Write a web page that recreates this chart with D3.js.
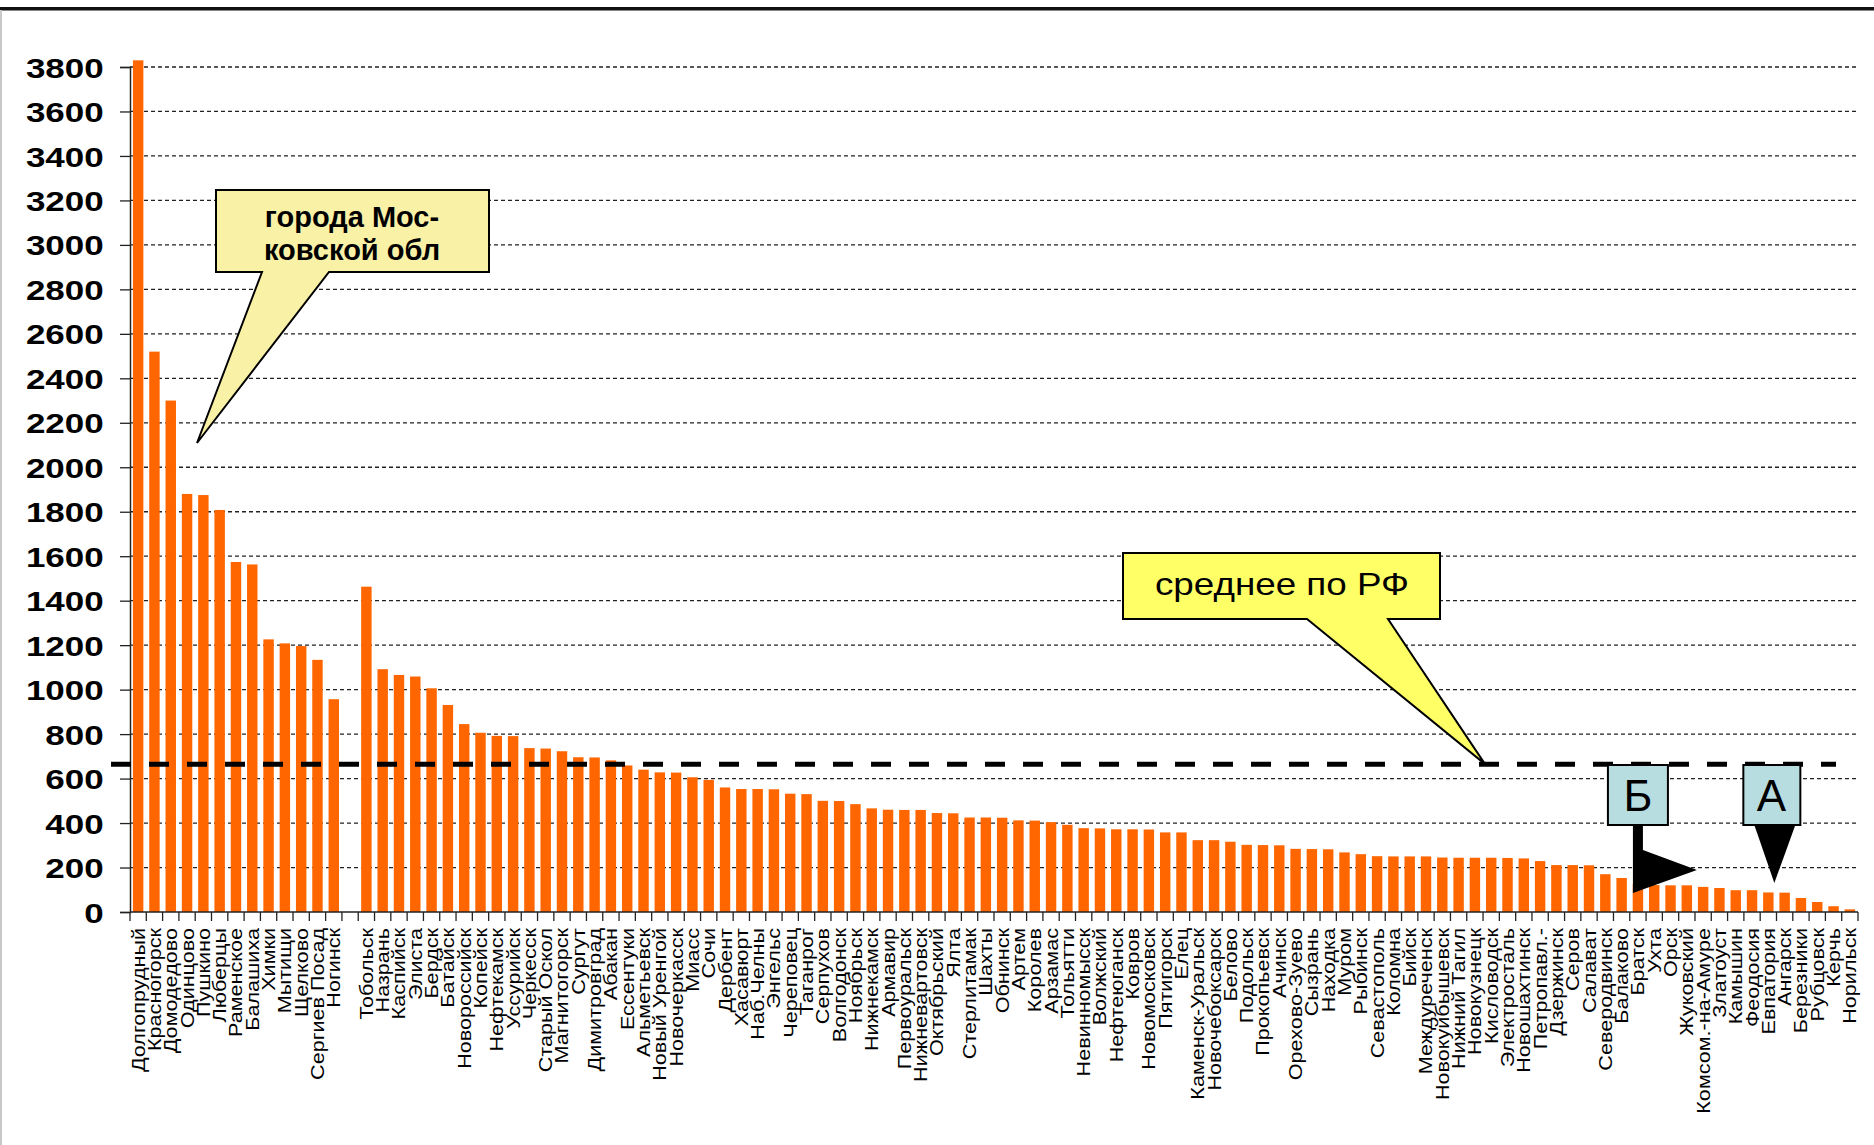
<!DOCTYPE html>
<html>
<head>
<meta charset="utf-8">
<script src="https://cdn.jsdelivr.net/npm/d3@7"></script>
<style>
  body { margin: 0; background: #fff; }
  svg { display: block; }
</style>
</head>
<body>
<script>
// cities (one empty slot between the Moscow region group and the rest)
var cities = [
  "Долгопрудный", "Красногорск", "Домодедово", "Одинцово", "Пушкино", "Люберцы",
  "Раменское", "Балашиха", "Химки", "Мытищи", "Щелково", "Сергиев Посад", "Ногинск", "",
  "Тобольск", "Назрань", "Каспийск", "Элиста", "Бердск", "Батайск", "Новороссийск",
  "Копейск", "Нефтекамск", "Уссурийск", "Черкесск", "Старый Оскол", "Магнитогорск",
  "Сургут", "Димитровград", "Абакан", "Ессентуки", "Альметьевск", "Новый Уренгой",
  "Новочеркасск", "Миасс", "Сочи", "Дербент", "Хасавюрт", "Наб.Челны", "Энгельс",
  "Череповец", "Таганрог", "Серпухов", "Волгодонск", "Ноябрьск", "Нижнекамск", "Армавир",
  "Первоуральск", "Нижневартовск", "Октябрьский", "Ялта", "Стерлитамак", "Шахты",
  "Обнинск", "Артем", "Королев", "Арзамас", "Тольятти", "Невинномысск", "Волжский",
  "Нефтеюганск", "Ковров", "Новомосковск", "Пятигорск", "Елец", "Каменск-Уральск",
  "Новочебоксарск", "Белово", "Подольск", "Прокопьевск", "Ачинск", "Орехово-Зуево",
  "Сызрань", "Находка", "Муром", "Рыбинск", "Севастополь", "Коломна", "Бийск",
  "Междуреченск", "Новокуйбышевск", "Нижний Тагил", "Новокузнецк", "Кисловодск",
  "Электросталь", "Новошахтинск", "Петропавл.-", "Дзержинск", "Серов", "Салават",
  "Северодвинск", "Балаково", "Братск", "Ухта", "Орск", "Жуковский", "Комсом.-на-Амуре",
  "Златоуст", "Камышин", "Феодосия", "Евпатория", "Ангарск", "Березники", "Рубцовск",
  "Керчь", "Норильск"
];

var values = [
  3830, 2520, 2300, 1880, 1875, 1808, 1574, 1563, 1226, 1208, 1196, 1134, 957, null,
  1463, 1092, 1066, 1059, 1006, 931, 845, 806, 792, 791, 737, 735, 723,
  696, 695, 682, 659, 640, 628, 627, 606, 594, 560, 553, 553, 552,
  532, 530, 500, 499, 485, 466, 460, 459, 459, 445, 444, 425, 425,
  424, 412, 411, 404, 392, 377, 376, 372, 372, 371, 358, 358, 323,
  323, 316, 302, 301, 300, 284, 283, 282, 268, 260, 251, 250, 250,
  250, 245, 244, 244, 244, 243, 241, 229, 211, 211, 210, 170, 153,
  126, 121, 120, 120, 113, 108, 98, 98, 88, 87, 63, 45, 26, 12
];

var yTicks = d3.range(0, 3801, 200);
var meanValue = 665;

window.onload = function() {

  var w = 1874;
  var h = 1145;
  var margin = {left: 130, right: 16, top: 67, bottom: 233};

  var svg = d3.select("body")
    .append("svg")
    .attr("width", w)
    .attr("height", h);

  svg.append("rect")
    .attr("width", w)
    .attr("height", h)
    .attr("fill", "#fff");

  // frame of the original slide
  svg.append("rect")
    .attr("x", 0).attr("y", 7)
    .attr("width", w).attr("height", 3.5)
    .attr("fill", "#111");
  svg.append("rect")
    .attr("x", 0).attr("y", 10)
    .attr("width", 2).attr("height", h - 10)
    .attr("fill", "#c8c8c8");

  var data = cities.map(function(c, i) {
    return {city: c, value: values[i]};
  });

  // scales
  var xScale = d3.scaleBand()
    .domain(cities)
    .range([margin.left, w - margin.right])
    .paddingInner(0.36)
    .paddingOuter(0.18);

  var yScale = d3.scaleLinear()
    .domain([0, 3800])
    .range([h - margin.bottom, margin.top]);

  var step = (w - margin.right - margin.left) / cities.length;

  // dashed grid lines
  svg.append("g")
    .selectAll("line")
    .data(yTicks.filter(function(d) { return d > 0; }))
    .enter()
    .append("line")
    .attr("x1", margin.left)
    .attr("x2", w - margin.right)
    .attr("y1", function(d) { return yScale(d); })
    .attr("y2", function(d) { return yScale(d); })
    .attr("stroke", "#222")
    .attr("stroke-width", 1.3)
    .attr("stroke-dasharray", "4,3");

  // bars
  svg.append("g")
    .selectAll("rect")
    .data(data.filter(function(d) { return d.value !== null; }))
    .enter()
    .append("rect")
    .attr("x", function(d) { return xScale(d.city); })
    .attr("y", function(d) { return yScale(d.value); })
    .attr("width", xScale.bandwidth())
    .attr("height", function(d) { return yScale(0) - yScale(d.value); })
    .attr("fill", "#ff6600");

  // y axis
  var yAxis = d3.axisLeft(yScale)
    .tickValues(yTicks)
    .tickSize(10)
    .tickPadding(0)
    .tickFormat(d3.format("d"));

  var gy = svg.append("g")
    .attr("transform", "translate(" + margin.left + ",0)")
    .call(yAxis);
  gy.select(".domain").attr("stroke", "#222").attr("stroke-width", 1.5);
  gy.selectAll(".tick line").attr("stroke", "#222").attr("stroke-width", 1.3);
  gy.selectAll(".tick text")
    .attr("x", -21)
    .attr("dy", "0.36em")
    .attr("transform", "scale(1.25,1)")
    .style("font-family", "'Liberation Sans', Arial, sans-serif")
    .style("font-size", "28px")
    .style("font-weight", "bold")
    .attr("fill", "#000");

  // x axis: ticks on category borders
  var gx = svg.append("g");
  gx.append("line")
    .attr("x1", margin.left)
    .attr("x2", w - margin.right)
    .attr("y1", yScale(0))
    .attr("y2", yScale(0))
    .attr("stroke", "#222")
    .attr("stroke-width", 1.5);
  gx.selectAll("line.tk")
    .data(d3.range(cities.length + 1))
    .enter()
    .append("line")
    .attr("class", "tk")
    .attr("x1", function(i) { return margin.left + i * step; })
    .attr("x2", function(i) { return margin.left + i * step; })
    .attr("y1", yScale(0))
    .attr("y2", yScale(0) + 9)
    .attr("stroke", "#222")
    .attr("stroke-width", 1.3);

  // rotated city names
  gx.selectAll("text")
    .data(cities)
    .enter()
    .append("text")
    .attr("transform", function(d) {
      var cx = xScale(d) + xScale.bandwidth() / 2;
      return "translate(" + cx + "," + (yScale(0) + 16) + ") rotate(-90) scale(1.2,1)";
    })
    .attr("text-anchor", "end")
    .attr("dy", "0.36em")
    .style("font-family", "'Liberation Sans', Arial, sans-serif")
    .style("font-size", "18px")
    .attr("fill", "#000")
    .text(function(d) { return d; });

  // average line for Russia
  svg.append("line")
    .attr("x1", 111)
    .attr("x2", 1836)
    .attr("y1", yScale(meanValue))
    .attr("y2", yScale(meanValue))
    .attr("stroke", "#000")
    .attr("stroke-width", 5)
    .attr("stroke-dasharray", "20,18");

  // callout: Moscow region towns
  svg.append("path")
    .attr("d", "M216,190 H489 V272 H329 L197,443 L262,272 H216 Z")
    .attr("fill", "#f9f1a6")
    .attr("stroke", "#000")
    .attr("stroke-width", 2);
  svg.append("text")
    .attr("x", 352).attr("y", 227)
    .attr("text-anchor", "middle")
    .style("font-family", "'Liberation Sans', Arial, sans-serif")
    .style("font-size", "29px")
    .style("font-weight", "bold")
    .text("города Мос-");
  svg.append("text")
    .attr("x", 352).attr("y", 260)
    .attr("text-anchor", "middle")
    .style("font-family", "'Liberation Sans', Arial, sans-serif")
    .style("font-size", "29px")
    .style("font-weight", "bold")
    .text("ковской обл");

  // callout: average
  var tipY = yScale(meanValue);
  svg.append("path")
    .attr("d", "M1123,553 H1440 V619 H1388 L1485," + tipY + " L1307,619 H1123 Z")
    .attr("fill", "#ffff66")
    .attr("stroke", "#000")
    .attr("stroke-width", 2);
  svg.append("text")
    .attr("transform", "translate(1282,595) scale(1.15,1)")
    .attr("text-anchor", "middle")
    .style("font-family", "'Liberation Sans', Arial, sans-serif")
    .style("font-size", "32px")
    .text("среднее по РФ");

  // markers Б and А
  var bx = xScale("Братск") + xScale.bandwidth() / 2;
  var ax = xScale("Евпатория") + xScale.bandwidth() / 2;

  svg.append("path")
    .attr("d", "M" + (bx - 5) + ",825 H" + (bx + 5) + " V850 L" + (bx + 59) + ",870 L" + (bx - 5) + ",893 Z")
    .attr("fill", "#000");
  svg.append("rect")
    .attr("x", bx - 30).attr("y", 765)
    .attr("width", 60).attr("height", 60)
    .attr("fill", "#b7dde0")
    .attr("stroke", "#000")
    .attr("stroke-width", 2);
  svg.append("text")
    .attr("x", bx).attr("y", 811)
    .attr("text-anchor", "middle")
    .style("font-family", "'Liberation Sans', Arial, sans-serif")
    .style("font-size", "44px")
    .text("Б");

  svg.append("path")
    .attr("d", "M" + (ax - 14) + ",825 H" + (ax + 27) + " L" + (ax + 6) + ",883 Z")
    .attr("fill", "#000");
  svg.append("rect")
    .attr("x", ax - 25).attr("y", 765)
    .attr("width", 57).attr("height", 60)
    .attr("fill", "#b7dde0")
    .attr("stroke", "#000")
    .attr("stroke-width", 2);
  svg.append("text")
    .attr("x", ax + 3).attr("y", 811)
    .attr("text-anchor", "middle")
    .style("font-family", "'Liberation Sans', Arial, sans-serif")
    .style("font-size", "44px")
    .text("А");
};
</script>
</body>
</html>
